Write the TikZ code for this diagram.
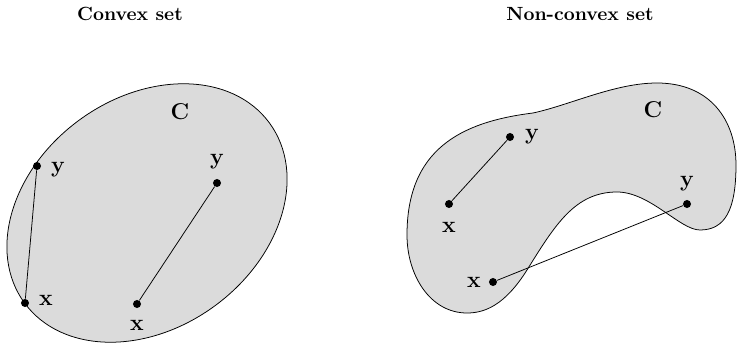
\documentclass[tikz,border=0pt]{standalone}
\usepackage{tikz}

\begin{document}
\begin{tikzpicture}[x=0.0184cm,y=-0.0184cm,
    dot/.style={circle,fill=black,inner sep=0pt,minimum size=4.2pt},
    lbl/.style={font=\large},
    title/.style={font=\bfseries}]
    \useasboundingbox (0,0) rectangle (738,343);

    \node[title] (t1) at (130,14) {Convex set};
    \node[title] (t2) at (580,14) {Non-convex set};

    % convex set
    \draw[fill=black!14] (147,213) ellipse[x radius=152,y radius=115,rotate=36.4];
    \node[lbl] (c1) at (180,112) {$\mathbf{C}$};
    \node[dot] (x1) at (25,303) {};
    \node[dot] (y1) at (37,166) {};
    \node[dot] (x2) at (137,304) {};
    \node[dot] (y2) at (217,183) {};
    \draw (x1) -- (y1);
    \draw (x2) -- (y2);
    \node[lbl] (lx1) at (46,300) {$\mathbf{x}$};
    \node[lbl] (ly1) at (58,170) {$\mathbf{y}$};
    \node[lbl] (lx2) at (137,325) {$\mathbf{x}$};
    \node[lbl] (ly2) at (217,162) {$\mathbf{y}$};

    % non-convex set
    \draw[fill=black!14] (407,235)
        .. controls (407,150) and (460,122) .. (533,113)
        .. controls (570,105) and (615,83) .. (657,83)
        .. controls (710,83) and (736,120) .. (736,165)
        .. controls (736,210) and (725,230) .. (700,230)
        .. controls (680,230) and (650,192) .. (617,192)
        .. controls (575,192) and (555,225) .. (527,270)
        .. controls (505,305) and (485,313) .. (467,313)
        .. controls (430,313) and (407,275) .. cycle;
    \node[lbl] (c2) at (653,110) {$\mathbf{C}$};
    \node[dot] (x3) at (449,204) {};
    \node[dot] (y3) at (510,137) {};
    \node[dot] (x4) at (493,282) {};
    \node[dot] (y4) at (687,204) {};
    \draw (x3) -- (y3);
    \draw (x4) -- (y4);
    \node[lbl] (lx3) at (449,227) {$\mathbf{x}$};
    \node[lbl] (ly3) at (532,137) {$\mathbf{y}$};
    \node[lbl] (lx4) at (474,282) {$\mathbf{x}$};
    \node[lbl] (ly4) at (687,184) {$\mathbf{y}$};
\end{tikzpicture}
\end{document}
